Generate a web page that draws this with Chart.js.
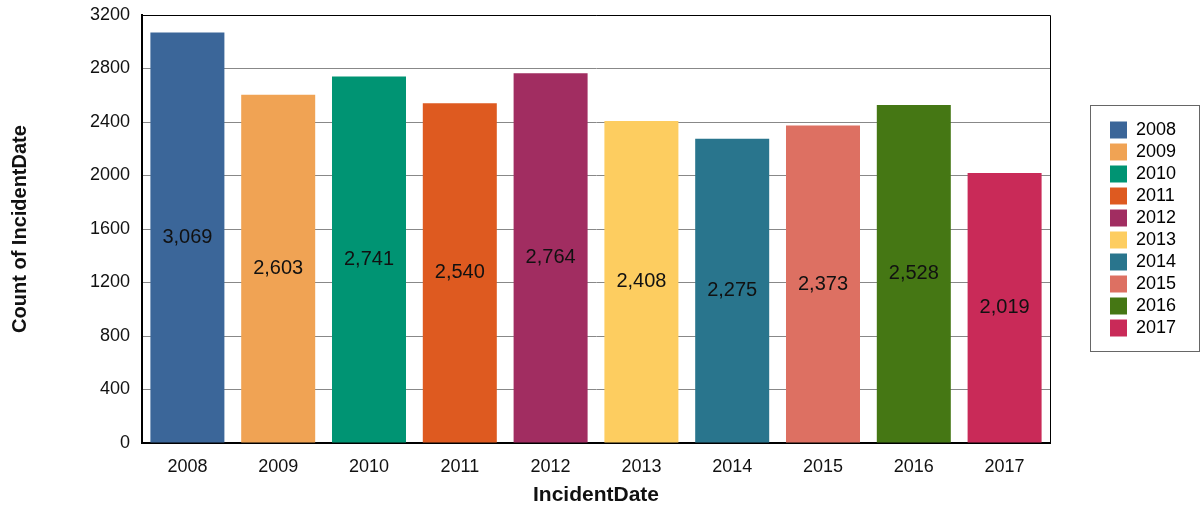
<!DOCTYPE html>
<html>
<head>
<meta charset="utf-8">
<script src="https://cdn.jsdelivr.net/npm/chart.js@4.4.0/dist/chart.umd.min.js"></script>
<style>
  html, body { margin: 0; padding: 0; background: #fff; }
  #wrap { width: 1201px; height: 510px; }
</style>
</head>
<body>
<div id="wrap"><canvas id="c" width="1201" height="510"></canvas></div>
<script>
const categories = ['2008','2009','2010','2011','2012','2013','2014','2015','2016','2017'];
const counts = [3069, 2603, 2741, 2540, 2764, 2408, 2275, 2373, 2528, 2019];
const colors = ['#3b6699','#f0a354','#009473','#de5a20','#a12d61','#fdcd60','#29758d','#dd7062','#457714','#c92a58'];
const yTicks = [0, 400, 800, 1200, 1600, 2000, 2400, 2800, 3200];

const FONT = '"Liberation Sans", Arial, sans-serif';
const LEGEND_WIDTH = 151;   // space reserved right of the plot
const LEGEND_SHIFT = 56;    // gap between plot and legend items
const LEGEND_LIFT = 26;

const legendSizer = {
  id: 'legendSizer',
  afterInit(chart) {
    const lg = chart.legend;
    if (!lg) return;
    const orig = lg.fit.bind(lg);
    lg.fit = function () { orig(); this.width = LEGEND_WIDTH; };
  },
  afterLayout(chart) {
    const lg = chart.legend;
    if (!lg) return;
    lg.left += LEGEND_SHIFT;
    lg.top -= LEGEND_LIFT;
    lg.bottom -= LEGEND_LIFT;
  }
};

const barLabels = {
  id: 'barLabels',
  afterDatasetsDraw(chart) {
    const ctx = chart.ctx;
    const meta = chart.getDatasetMeta(0);
    ctx.save();
    ctx.font = '20px ' + FONT;
    ctx.fillStyle = '#111';
    ctx.textAlign = 'center';
    ctx.textBaseline = 'middle';
    meta.data.forEach((bar, i) => {
      const v = chart.data.datasets[0].data[i];
      ctx.fillText(v.toLocaleString('en-US'), bar.x, (bar.y + bar.base) / 2);
    });
    ctx.restore();
  }
};

const frame = {
  id: 'frame',
  afterDraw(chart) {
    const ctx = chart.ctx;
    const a = chart.chartArea;
    ctx.save();
    ctx.strokeStyle = '#000';
    ctx.lineWidth = 1;
    ctx.beginPath();
    ctx.moveTo(a.left, a.top + 0.5);
    ctx.lineTo(a.right + 0.5, a.top + 0.5);
    ctx.lineTo(a.right + 0.5, a.bottom);
    ctx.stroke();
    const lg = chart.legend;
    if (lg && lg.legendHitBoxes && lg.legendHitBoxes.length) {
      const hb = lg.legendHitBoxes;
      const x0 = Math.round(hb[0].left - 20) + 0.5;
      const y0 = Math.round(hb[0].top - 16) + 0.5;
      const y1 = Math.round(hb[hb.length - 1].top + hb[hb.length - 1].height + 14) + 0.5;
      ctx.strokeStyle = '#666';
      ctx.lineWidth = 1;
      ctx.strokeRect(x0, y0, 1199.5 - x0, y1 - y0);
    }
    ctx.restore();
  }
};

new Chart(document.getElementById('c'), {
  type: 'bar',
  data: {
    labels: categories,
    datasets: [{
      label: 'Count of IncidentDate',
      data: counts,
      backgroundColor: colors,
      borderWidth: 0,
      barPercentage: 0.815,
      categoryPercentage: 1.0
    }]
  },
  options: {
    responsive: false,
    animation: false,
    layout: { padding: { top: 0, right: 0, left: 0, bottom: 0 } },
    plugins: {
      tooltip: { enabled: false },
      legend: {
        position: 'right',
        align: 'center',
        labels: {
          boxWidth: 17,
          boxHeight: 17,
          padding: 4,
          color: '#111',
          font: { family: FONT, size: 18 },
          generateLabels() {
            return categories.map((c, i) => ({
              text: c,
              fillStyle: colors[i],
              strokeStyle: colors[i],
              lineWidth: 0,
              hidden: false,
              index: i
            }));
          }
        }
      }
    },
    scales: {
      x: {
        afterFit(scale) { scale.height = 67; },
        grid: { display: false, drawTicks: false },
        border: { color: '#000', width: 2 },
        ticks: { color: '#111', font: { family: FONT, size: 18 }, padding: 13 },
        title: { display: true, text: 'IncidentDate', color: '#111', font: { family: FONT, size: 21, weight: 'bold' }, padding: { top: 6, bottom: 2 } }
      },
      y: {
        min: 0,
        max: 3200,
        afterBuildTicks(axis) { axis.ticks = yTicks.map(v => ({ value: v })); },
        afterFit(scale) { scale.width = 142; scale.paddingTop = 15; scale.paddingBottom = 0; },
        grid: { color: '#888', lineWidth: 1, drawTicks: false },
        border: { color: '#000', width: 2 },
        ticks: { color: '#111', font: { family: FONT, size: 18 }, padding: 12, callback: v => String(v) },
        title: { display: true, text: 'Count of IncidentDate', color: '#111', font: { family: FONT, size: 20, weight: 'bold' }, padding: { top: 8, bottom: 47 } }
      }
    }
  },
  plugins: [legendSizer, barLabels, frame]
});
</script>
</body>
</html>
